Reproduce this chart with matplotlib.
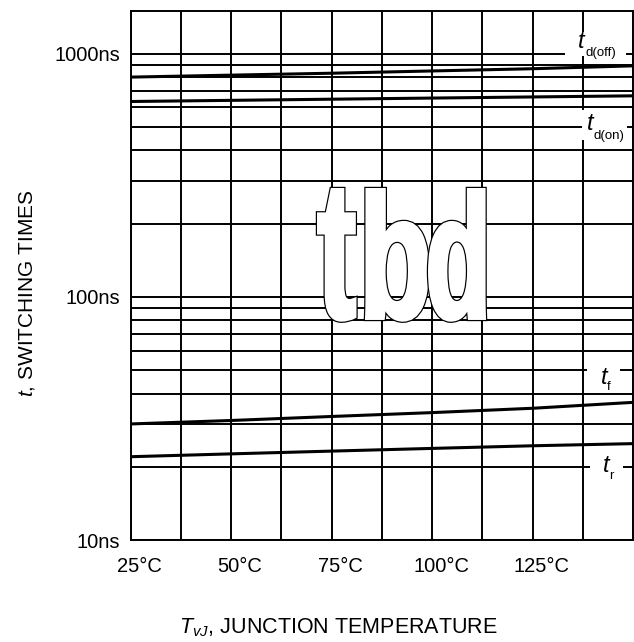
import matplotlib
matplotlib.use('Agg')
import matplotlib.pyplot as plt
from matplotlib.ticker import FixedLocator, MultipleLocator, LogLocator, NullFormatter
from matplotlib.textpath import TextPath
from matplotlib.patches import PathPatch, Rectangle
from matplotlib.font_manager import FontProperties
import matplotlib.transforms as mtransforms

plt.rcParams['font.family'] = ['Liberation Sans', 'DejaVu Sans']
plt.rcParams['mathtext.fontset'] = 'custom'
plt.rcParams['mathtext.rm'] = 'Liberation Sans'
plt.rcParams['mathtext.it'] = 'Liberation Sans:italic'

# ---- data ----
temps = [25, 50, 75, 100, 125, 150]
td_off = [800, 815, 830, 848, 866, 890]
td_on = [635, 642, 649, 656, 663, 670]
t_f = [30.0, 31.0, 32.2, 33.4, 34.8, 36.8]
t_r = [22.0, 22.6, 23.2, 23.8, 24.4, 24.9]

x_ticks = [25, 50, 75, 100, 125]
x_tick_labels = ['25°C', '50°C', '75°C', '100°C', '125°C']
y_ticks = [10, 100, 1000]
y_tick_labels = ['10ns', '100ns', '1000ns']

# ---- figure ----
W, H = 634, 642
fig = plt.figure(figsize=(W / 100, H / 100), dpi=100)
L, R, T, B = 130.7, 633.0, 10.7, 540.0
ax = fig.add_axes([L / W, 1 - B / H, (R - L) / W, (B - T) / H])
ax.set_yscale('log')
ax.set_xlim(25, 150)
ax.set_ylim(10, 1500)

ax.xaxis.set_major_locator(FixedLocator(x_ticks))
ax.xaxis.set_minor_locator(MultipleLocator(12.5))
ax.set_xticklabels(x_tick_labels)
ax.yaxis.set_major_locator(FixedLocator(y_ticks))
ax.yaxis.set_minor_locator(LogLocator(base=10, subs=range(2, 10)))
ax.yaxis.set_minor_formatter(NullFormatter())
ax.set_yticklabels(y_tick_labels)

ax.grid(True, which='both', color='black', linewidth=1.4)
ax.tick_params(which='both', length=0, labelsize=14.5)
ax.tick_params(axis='y', pad=7.7)
ax.tick_params(axis='x', pad=12.5)
for s in ax.spines.values():
    s.set_linewidth(1.4)
    s.set_color('black')

offset = mtransforms.ScaledTranslation(0.09, 0, fig.dpi_scale_trans)
for lbl in ax.get_xticklabels():
    lbl.set_transform(lbl.get_transform() + offset)

for series in (td_off, td_on, t_f, t_r):
    ax.plot(temps, series, color='black', linewidth=2.2, zorder=3)

# pixel transform (top-left origin)
pix = mtransforms.Affine2D().scale(1 / W, -1 / H).translate(0, 1) + fig.transFigure

# curve labels with white backgrounds
labels = [
    ((565, 32, 61, 24), (578, 47.5), (586, 56), 'd(off)'),
    ((582, 110, 45, 30), (587, 130.5), (593, 139), 'd(on)'),
    ((587, 361, 33, 31), (601, 383.5), (607, 390.5), 'f'),
    ((590, 452, 33, 28), (603, 472.5), (609, 479), 'r'),
]
for (bx, by, bw, bh), (tx, ty), (sx, sy), sub in labels:
    fig.add_artist(Rectangle((bx, by), bw, bh, transform=pix, facecolor='white',
                             edgecolor='none', zorder=4))
    fig.text(tx, ty, 't', transform=pix, fontsize=17, style='italic',
             ha='left', va='baseline', zorder=5)
    fig.text(sx, sy, sub, transform=pix, fontsize=9.5, ha='left',
             va='baseline', zorder=5)

# big outlined heavy "tbd" (each glyph fitted into its own box, emboldened)
fp = FontProperties(family='Liberation Sans', weight='bold')
glyph_boxes = [('t', 317.0, 356.5), ('b', 365.0, 429.0), ('d', 428.0, 486.0)]
gy0, gy1 = 188.0, 321.7
e = 2.0  # emboldening in pixels
px2pt = 72.0 / 100.0
zo = 6
for ch, gx0, gx1 in glyph_boxes:
    tp = TextPath((0, 0), ch, size=100, prop=fp)
    ext = tp.get_extents()
    bx0, bx1, by0, by1 = gx0 + e, gx1 - e, gy0 + e, gy1 - e
    tr = (mtransforms.Affine2D().translate(-ext.x0, -ext.y0)
          .scale((bx1 - bx0) / ext.width, -(by1 - by0) / ext.height)
          .translate(bx0, by1) + pix)
    fig.add_artist(PathPatch(tp, transform=tr, facecolor='black',
                             edgecolor='black', linewidth=(2 * e + 2.4) * px2pt,
                             joinstyle='miter', zorder=zo))
    fig.add_artist(PathPatch(tp, transform=tr, facecolor='white',
                             edgecolor='white', linewidth=(2 * e) * px2pt,
                             joinstyle='miter', zorder=zo + 0.5))
    zo += 1

# axis titles
fig.text(338, 633, r'$T_{vJ}$, JUNCTION TEMPERATURE', transform=pix,
         fontsize=15.5, ha='center', va='baseline')
fig.text(27, 293.5, r'$t$, SWITCHING TIMES', transform=pix, fontsize=15,
         rotation=90, ha='center', va='center')

fig.savefig('out.png', dpi=100)
